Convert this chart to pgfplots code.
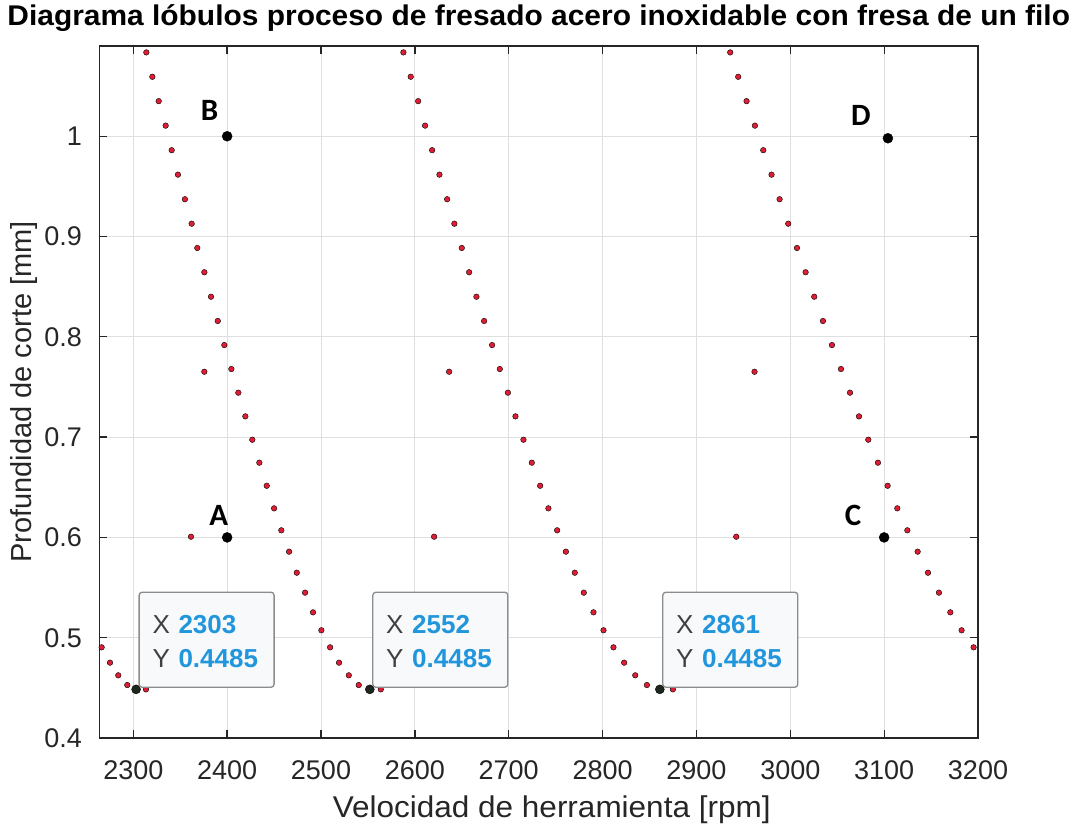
\documentclass[border=0pt]{standalone}
\usepackage{fontspec}
\setmainfont{Liberation Sans}
\newfontfamily\labfont{Carlito}
\newfontfamily\titlefont[FakeStretch=1.05]{Liberation Sans}
\usepackage{pgfplots}
\pgfplotsset{compat=1.18}
\definecolor{axc}{HTML}{262626}
\definecolor{gridc}{HTML}{DFDFDF}
\definecolor{dotred}{HTML}{DE1E34}
\definecolor{tipblue}{HTML}{2196DC}
\definecolor{tipgray}{HTML}{404040}
\definecolor{tipfill}{HTML}{F8F9FB}
\definecolor{tipedge}{HTML}{8C8C8C}
\definecolor{tipmark}{HTML}{1E261E}
\newcommand{\datatip}[4]{%
  \draw[tipedge, line width=1.3pt, fill=tipfill, rounded corners=3pt] ([xshift=3pt,yshift=2.1pt]axis cs:#1,#2) rectangle ++(135pt,95pt);
  \node[anchor=base west, inner sep=0pt, text=tipgray, font=\fontsize{26}{30}\selectfont] at ([xshift=16.2pt,yshift=56.1pt]axis cs:#1,#2) {X};
  \node[anchor=base west, inner sep=0pt, text=tipblue, font=\fontsize{26}{30}\selectfont\bfseries] at ([xshift=42.2pt,yshift=56.1pt]axis cs:#1,#2) {#3};
  \node[anchor=base west, inner sep=0pt, text=tipgray, font=\fontsize{26}{30}\selectfont] at ([xshift=16.2pt,yshift=22.1pt]axis cs:#1,#2) {Y};
  \node[anchor=base west, inner sep=0pt, text=tipblue, font=\fontsize{26}{30}\selectfont\bfseries] at ([xshift=42.2pt,yshift=22.1pt]axis cs:#1,#2) {#4};
}
\begin{document}
\begin{tikzpicture}
\begin{axis}[
  scale only axis, width=878.5pt, height=692pt,
  xmin=2264, xmax=3200, ymin=0.4, ymax=1.09,
  xtick={2300,2400,2500,2600,2700,2800,2900,3000,3100,3200},
  ytick={0.4,0.5,0.6,0.7,0.8,0.9,1},
  grid=major, major grid style={gridc, line width=1pt},
  axis line style={axc, line width=1.3pt},
  tick align=inside, major tick length=8pt,
  tick style={axc, line width=1.3pt},
  /pgf/number format/1000 sep={},
  /pgf/number format/assume math mode=true,
  ticklabel style={font=\fontsize{27}{30}\selectfont, text=axc},
  xticklabel style={anchor=base, yshift=-41.3pt},
  yticklabel style={anchor=east, inner xsep=0pt, xshift=-17.5pt},
  title={\bfseries Diagrama lóbulos proceso de fresado acero inoxidable con fresa de un filo},
  title style={font=\fontsize{28.5}{32}\selectfont\titlefont, text=black, anchor=base, at={(axis description cs:0.5,1.0215)}},
  xlabel={Velocidad de herramienta [rpm]},
  xlabel style={font=\fontsize{30}{33}\titlefont\selectfont, text=axc, anchor=base, at={(axis description cs:0.5148,-0.1146)}},
  ylabel={Profundidad de corte [mm]},
  ylabel style={font=\fontsize{29}{32}\selectfont, text=axc, anchor=base, at={(axis description cs:-0.07718,0.5)}},
  clip mode=individual,
]
\addplot[only marks, mark=*, mark size=2.8pt, mark options={draw=none, fill=dotred}] table {
x y
2266.3 0.4904
2275.2 0.4751
2284.0 0.4625
2293.6 0.4528
2303.0 0.4485
2313.5 0.4485
2313.9 1.0836
2320.3 1.0593
2327.1 1.0350
2334.5 1.0106
2340.9 0.9861
2347.6 0.9617
2355.0 0.9372
2362.2 0.9128
2368.2 0.8886
2375.7 0.8644
2382.8 0.8400
2390.0 0.8158
2397.0 0.7918
2404.5 0.7679
2411.9 0.7443
2419.4 0.7207
2426.8 0.6974
2434.3 0.6745
2442.2 0.6515
2450.0 0.6290
2457.7 0.6071
2466.0 0.5858
2474.2 0.5648
2483.0 0.5449
2491.5 0.5253
2500.4 0.5074
2509.7 0.4904
2519.2 0.4751
2529.6 0.4625
2540.2 0.4528
2552.0 0.4485
2563.7 0.4485
2587.8 1.0836
2595.6 1.0593
2603.5 1.0350
2610.9 1.0106
2618.4 0.9861
2626.2 0.9617
2634.4 0.9372
2642.1 0.9128
2650.0 0.8886
2657.8 0.8644
2665.6 0.8400
2673.8 0.8158
2682.3 0.7918
2690.5 0.7679
2699.1 0.7443
2707.2 0.7207
2715.7 0.6974
2724.6 0.6745
2733.5 0.6515
2742.3 0.6290
2751.6 0.6071
2760.9 0.5858
2770.4 0.5648
2780.0 0.5449
2790.3 0.5253
2801.0 0.5074
2811.6 0.4904
2823.0 0.4751
2834.8 0.4625
2847.2 0.4528
2861.0 0.4485
2874.9 0.4485
2936.0 1.0836
2944.5 1.0593
2953.4 1.0350
2962.3 1.0106
2971.2 0.9861
2980.0 0.9617
2988.6 0.9372
2997.8 0.9128
3007.1 0.8886
3016.3 0.8644
3025.5 0.8400
3034.8 0.8158
3044.4 0.7918
3054.0 0.7679
3063.6 0.7443
3073.2 0.7207
3083.1 0.6974
3093.4 0.6745
3103.7 0.6515
3114.0 0.6290
3124.7 0.6071
3135.7 0.5858
3146.7 0.5648
3158.4 0.5449
3170.5 0.5253
3182.5 0.5074
3195.3 0.4904
2361.5 0.6007
2375.7 0.7652
2620.5 0.6007
2636.5 0.7652
2942.4 0.6007
2961.9 0.7652
};
\addplot[only marks, mark=*, mark size=4.5pt, mark options={draw=none, fill=tipmark}] table {
x y
2303 0.4485
2552 0.4485
2861 0.4485
};
\addplot[only marks, mark=*, mark size=5pt, mark options={draw=none, fill=black}] table {
x y
2400 0.6
2400 1.0
3100 0.6
3104 0.998
};
\datatip{2303}{0.4485}{2303}{0.4485}
\datatip{2552}{0.4485}{2552}{0.4485}
\datatip{2861}{0.4485}{2861}{0.4485}
\node[anchor=base, inner sep=0pt, font=\fontsize{31}{34}\selectfont\labfont\bfseries] at (axis cs:2391.1,0.6117) {A};
\node[anchor=base, inner sep=0pt, font=\fontsize{31}{34}\selectfont\labfont\bfseries] at (axis cs:2381.4,1.0162) {B};
\node[anchor=base, inner sep=0pt, font=\fontsize{31}{34}\selectfont\labfont\bfseries] at (axis cs:3066.9,0.6117) {C};
\node[anchor=base, inner sep=0pt, font=\fontsize{31}{34}\selectfont\labfont\bfseries] at (axis cs:3075.3,1.0109) {D};
\end{axis}
\pgfresetboundingbox
\path[use as bounding box] ([shift={(-99.5pt,-87pt)}]current axis.south west) rectangle ([shift={(97pt,46pt)}]current axis.north east);
\end{tikzpicture}
\end{document}
